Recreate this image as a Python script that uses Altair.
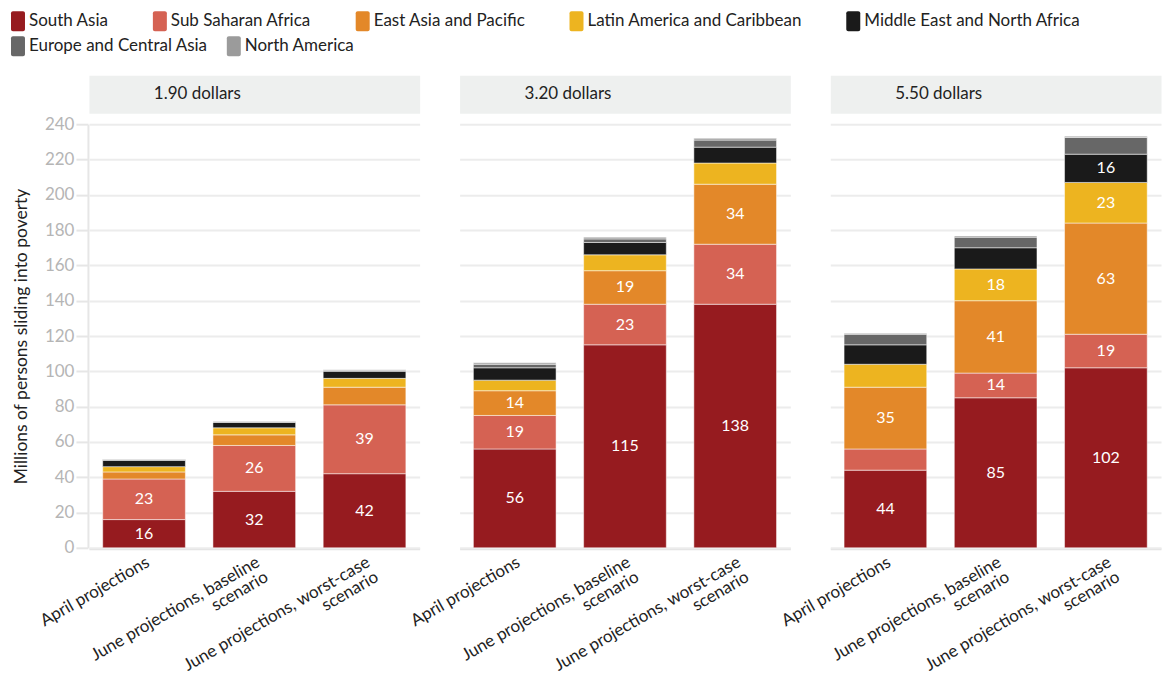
import altair as alt
import pandas as pd

regions = ["South Asia", "Sub Saharan Africa", "East Asia and Pacific",
           "Latin America and Caribbean", "Middle East and North Africa",
           "Europe and Central Asia", "North America"]
region_colors = ["#961b1f", "#d56253", "#e38829", "#edb420", "#1a1a1a", "#676767", "#9b9b9b"]
lines = ["1.90 dollars", "3.20 dollars", "5.50 dollars"]
scenarios = ["April projections", "June projections, baseline scenario",
             "June projections, worst-case scenario"]
y_ticks = [0, 20, 40, 60, 80, 100, 120, 140, 160, 180, 200, 220, 240]

# values per region, ordered (1.90: April, baseline, worst), (3.20: ...), (5.50: ...)
south_asia = [16, 32, 42, 56, 115, 138, 44, 85, 102]
sub_saharan_africa = [23, 26, 39, 19, 23, 34, 12, 14, 19]
east_asia_pacific = [4, 6, 10, 14, 19, 34, 35, 41, 63]
latin_america = [3, 4, 5, 6, 9, 12, 13, 18, 23]
middle_east = [3.5, 3, 4, 7, 7, 9, 11, 12, 16]
europe_central_asia = [0.5, 0.5, 0.6, 2, 2, 4, 6, 6, 9.5]
north_america = [0.3, 0.3, 0.3, 0.8, 1, 1, 0.5, 0.7, 0.7]

series = [south_asia, sub_saharan_africa, east_asia_pacific, latin_america,
          middle_east, europe_central_asia, north_america]

rows = []
for r_idx, (region, vals) in enumerate(zip(regions, series)):
    for i, v in enumerate(vals):
        rows.append({"line": lines[i // 3], "scenario": scenarios[i % 3],
                     "region": region, "order": r_idx, "value": v})
df = pd.DataFrame(rows)

FONT = "Lato"
PANEL_W = 331
PANEL_H = 424
LEG_X = -81
LEG_Y = -64
Y_TITLE = "Millions of persons sliding into poverty"

rounded = ("M-0.5,-1 h1 a0.2,0.2 0 0 1 0.2,0.2 v1.6 a0.2,0.2 0 0 1 -0.2,0.2 "
           "h-1 a0.2,0.2 0 0 1 -0.2,-0.2 v-1.6 a0.2,0.2 0 0 1 0.2,-0.2 z")

legend_style = dict(orient="none", direction="horizontal", gridAlign="each",
                    rowPadding=5, symbolType=rounded, symbolSize=400,
                    symbolStrokeWidth=0, labelFontSize=17, labelColor="#222222",
                    labelFont=FONT, labelLimit=400, labelOffset=1, padding=0)

y_axis = alt.Axis(values=y_ticks, labelColor="#b5b5b5", labelOverlap=False,
                  labelFontSize=17, labelFont=FONT, titleFont=FONT,
                  titleFontSize=17.5, titleColor="#222222",
                  titleFontWeight="normal", tickColor="#e6e6e6",
                  tickSize=12, tickWidth=2, domainColor="#e6e6e6",
                  domainWidth=2, gridColor="#ececec", gridWidth=2,
                  labelPadding=2, titlePadding=14)
y_scale = alt.Scale(domain=[0, 240])

x_axis = alt.Axis(labelAngle=-30, labelAlign="right", labelBaseline="top",
                  labelFontSize=17, labelColor="#222222", labelFont=FONT,
                  ticks=False, domainColor="#e3e3e3", domainWidth=2,
                  labelPadding=5, labelLimit=400, labelLineHeight=17,
                  labelExpr="indexof(datum.label, ' scenario') > 0 ? [replace(datum.label, ' scenario', ''), 'scenario'] : datum.label")
x_scale = alt.Scale(paddingInner=0.25, paddingOuter=0.125)


def x_enc():
    return alt.X("scenario:N", sort=scenarios, title=None, scale=x_scale, axis=x_axis)


def y_enc(field):
    return alt.Y(field, scale=y_scale, title=Y_TITLE, axis=y_axis)


base = alt.Chart().transform_stack(
    stack="value", groupby=["line", "scenario"],
    sort=[alt.SortField("order", order="ascending")], as_=["y0", "y1"]
).transform_calculate(mid="(datum.y0 + datum.y1) / 2")

bars = base.mark_bar(stroke="#ffffff", strokeWidth=0.5).encode(
    x=x_enc(),
    y=y_enc("y0:Q"),
    y2="y1:Q",
    color=alt.Color("region:N", scale=alt.Scale(domain=regions, range=region_colors),
                    title=None,
                    legend=alt.Legend(values=regions[:5], legendX=LEG_X, legendY=LEG_Y,
                                      columns=5, columnPadding=41, **legend_style)),
)

# second legend row (Europe and Central Asia, North America)
legend_row2 = base.transform_filter("false").mark_bar().encode(
    x=x_enc(),
    y=y_enc("y0:Q"),
    y2="y1:Q",
    fill=alt.Fill("region:N", scale=alt.Scale(domain=regions[5:], range=region_colors[5:]),
                  title=None,
                  legend=alt.Legend(legendX=LEG_X, legendY=LEG_Y + 25,
                                    columns=2, columnPadding=16, **legend_style)),
)

labels = base.transform_filter("datum.value >= 14").mark_text(
    color="white", fontSize=16, font=FONT, baseline="middle"
).encode(
    x=x_enc(),
    y=y_enc("mid:Q"),
    text=alt.Text("value:Q", format=".0f"),
)

plots = alt.layer(bars, legend_row2, labels, data=df).properties(
    width=PANEL_W, height=PANEL_H
).facet(
    column=alt.Column("line:N", sort=lines, header=None), spacing=38
)

headers = alt.hconcat(*[
    alt.Chart(pd.DataFrame({"line": [l]})).mark_text(
        align="left", baseline="middle", fontSize=17, color="#222222", font=FONT
    ).encode(text="line:N", x=alt.value(65), y=alt.value(19)).properties(
        width=PANEL_W, height=38,
        view=alt.ViewBackground(fill="#eef0ef", stroke="transparent"))
    for l in lines
], spacing=38)

chart = alt.vconcat(headers, plots, spacing=49, bounds="flush").properties(
    padding={"left": 0, "top": 3, "right": 0, "bottom": 0}
).configure_view(stroke="transparent")

chart.save("out.html", embed_options={"renderer": "svg", "actions": False})
